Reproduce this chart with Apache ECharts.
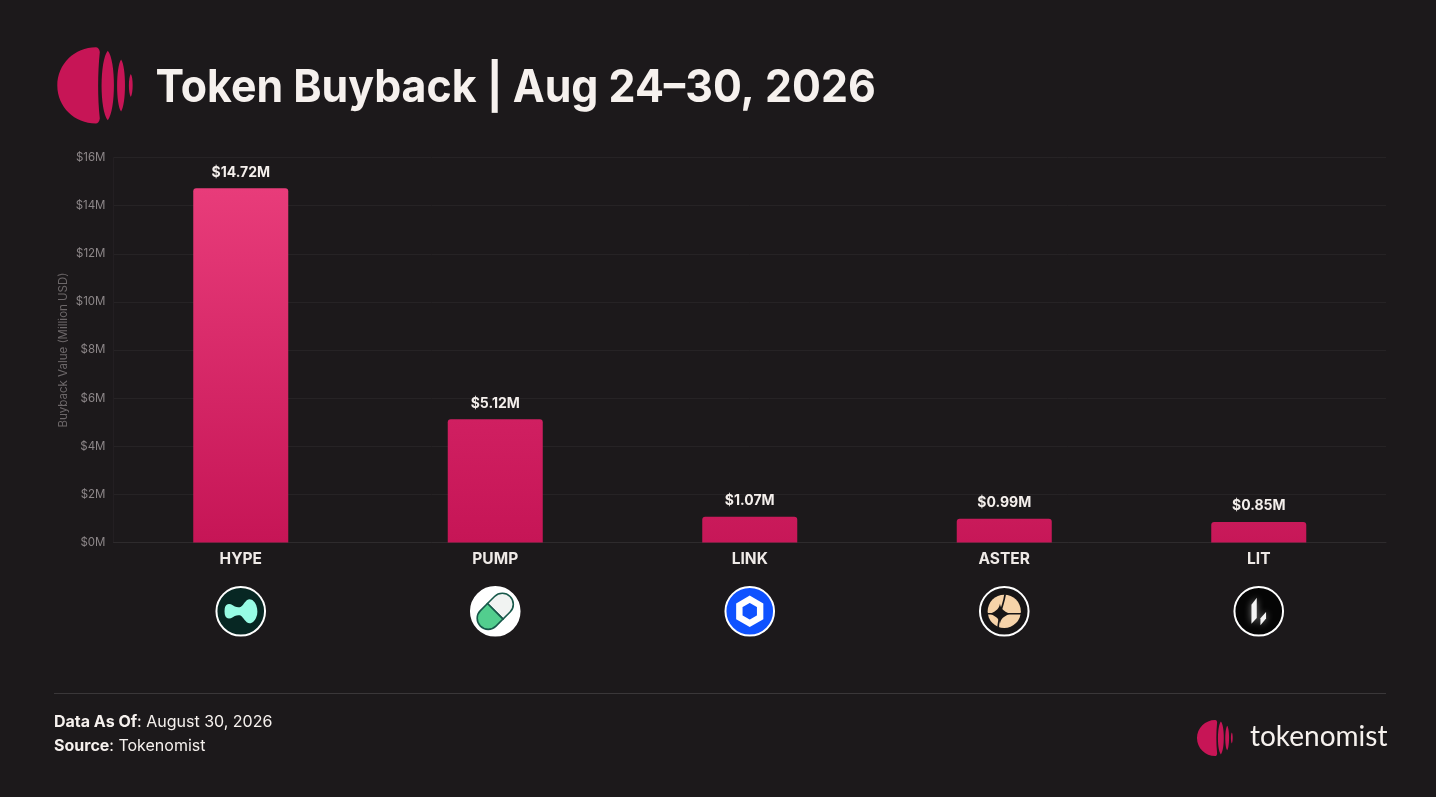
<!DOCTYPE html>
<html><head><meta charset="utf-8">
<style>html,body{margin:0;padding:0;background:#1c191b}#c{width:1436px;height:797px}</style>
<script src="https://cdn.jsdelivr.net/npm/echarts@6/dist/echarts.min.js"></script>
</head><body><div id="c"></div>
<script>
const categories = ['HYPE','PUMP','LINK','ASTER','LIT'];
const buyback = [14.72,5.12,1.07,0.99,0.85];
const valueLabels = ['$14.72M','$5.12M','$1.07M','$0.99M','$0.85M'];
const topColors = ['#E83C7A','#D01F61','#C91A5A','#C91A5A','#C91A5A'];
const bottomColors = ['#C61556','#C61556','#C71758','#C71758','#C71758'];
const titleText = 'Token Buyback | Aug 24–30, 2026';
const axisName = 'Buyback Value (Million USD)';

const chart = echarts.init(document.getElementById('c'), null, {width:1436, height:797, renderer:'canvas'});
const F = 'Inter, "Noto Sans", sans-serif';
let shapeId = 0;
const shapeOf = d => {
  const name = 'iconShape' + (shapeId++);
  echarts.graphic.registerShape(name, echarts.graphic.extendPath(d, {}));
  return name;
};
const lens = (cx,cy,rx,ry) => {
  const k = rx*1.33, h = ry*0.72;
  return `M${cx},${cy-ry}C${cx+k},${cy-h} ${cx+k},${cy+h} ${cx},${cy+ry}C${cx-k},${cy+h} ${cx-k},${cy-h} ${cx},${cy-ry}Z`;
};
const logoPath = 'M0.5,-38.2C-20.5,-38.2 -38,-21.5 -38,0C-38,21.5 -20.5,38 0.5,38C2.5,38 4,36.5 4.5,33C2.3,11.5 2.3,-11.5 4.5,-33.5C4,-36.7 2.5,-38.2 0.5,-38.2Z'
  + lens(12.5,0,6.2,34.7) + lens(25.8,0,4,26) + lens(35.5,0,1.9,11.4);
const logoShape = shapeOf(logoPath);
const logo = (x,y,s) => ({type:logoShape, x, y, scaleX:s, scaleY:s, style:{fill:'#C71556'}, silent:true});
const path = (d,fill,extra={}) => ({type:shapeOf(d), style:Object.assign({fill},extra), silent:true});
const ring = (fill,stroke='#fff') => ({type:'circle', shape:{cx:0,cy:0,r:24.3}, style:{fill,stroke,lineWidth:2}, silent:true});
const hex = R => {
  let p=[]; for(let i=0;i<6;i++){const a=Math.PI/3*i-Math.PI/2; p.push((R*Math.cos(a)).toFixed(2)+','+(R*Math.sin(a)).toFixed(2));}
  return 'M'+p.join('L')+'Z';
};
const glow = {shadowBlur:7,shadowColor:'rgba(255,255,255,.5)'};
const icons = [
  [ring('#072723'),
   path('M-16,-3C-15,-8 -11,-8 -8,-6C-5,-4 -3,-4 -1,-4C1,-4 3,-8 6,-11C10,-14 14,-10 15.5,-6C17,-2 17,3 15.5,6C14,10 10,14 6,11C3,8 1,4 -1,4C-3,4 -5,4 -8,6C-11,8 -15,8 -16,3C-16.3,1 -16.3,-1 -16,-3Z','#97FCE4')],
  [ring('#fff'),
   {type:'group', rotation:Math.PI/4, children:[
     path('M0,-11L10,-11A11,11 0 0 1 10,11L0,11Z','#F1F3F2',{stroke:'#17584A',lineWidth:1.6}),
     path('M0,-11L-10,-11A11,11 0 0 0 -10,11L0,11Z','#52CE8E',{stroke:'#17584A',lineWidth:1.6})
   ]}],
  [ring('#0F52FF'),
   path(hex(12),'#0F52FF',{stroke:'#fff',lineWidth:6.4,lineJoin:'miter'})],
  [ring('#171516'),
   {type:'circle', shape:{cx:0,cy:0,r:16.6}, style:{fill:'#F6D3A9'}, silent:true},
   path('M-17,1.7L17,1.7L17,3.3L-17,3.3Z','#171516'),
   path('M0,-17L1.8,-17C0.5,-10 -1,-5 -3.4,2.5L-5.2,2.5C-3,-5 -1,-10 0,-17Z','#171516'),
   path('M-5,2.5L-3.4,2.5C-4.5,8 -5,12 -5.3,17L-7.1,17C-6.7,12 -5.7,8 -5,2.5Z','#171516'),
   path('M-4.3,-7.5C-3.3,-2.5 -1.3,-0.5 5.7,2.5C-1.3,5.5 -3.3,7.5 -4.3,12.5C-5.3,7.5 -7.3,5.5 -14.3,2.5C-7.3,-0.5 -5.3,-2.5 -4.3,-7.5Z','#171516')],
  [ring('#050505'),
   path('M-7.3,-6.5L-2,-13.5L-2,6.7L-7.3,12.5Z','#F4F4F4',glow),
   path('M1.7,7L7.3,0.7L7.3,7.2L1.7,14Z','#F4F4F4',glow)]
];

chart.setOption({
  animation:false,
  backgroundColor:'#1c191b',
  grid:{left:113.5, right:50, top:157.5, bottom:254.5, containLabel:false},
  xAxis:{type:'category', data:categories,
    axisTick:{show:false},
    axisLine:{lineStyle:{color:'#2e2b2d',width:1}},
    axisLabel:{color:'#EFEAE7', fontFamily:F, fontSize:15.5, fontWeight:700, margin:9}},
  yAxis:{type:'value', min:0, max:16, interval:2,
    name:axisName, nameLocation:'middle', nameGap:44, nameRotate:90, nameMoveOverlap:false,
    nameTextStyle:{color:'#6C6769', fontFamily:F, fontSize:11.5},
    axisLine:{show:true, lineStyle:{color:'#231f22'}},
    axisTick:{show:false},
    splitLine:{lineStyle:{color:'#262325',width:1}},
    axisLabel:{color:'#8C8688', fontFamily:F, fontSize:11.5, margin:8, formatter:v=>'$'+v+'M'}},
  series:[{type:'bar', barWidth:95,
    data:buyback.map((v,i)=>({value:v, itemStyle:{borderRadius:[3,3,0,0],
      color:new echarts.graphic.LinearGradient(0,0,0,1,[{offset:0,color:topColors[i]},{offset:1,color:bottomColors[i]}])}})),
    label:{show:true, position:'top', distance:9, color:'#F4EFEC', fontFamily:F, fontSize:14, fontWeight:700,
      formatter:p=>valueLabels[p.dataIndex]}}]
});

const iconEls = categories.map((c,i)=>({type:'group', x:chart.convertToPixel({xAxisIndex:0},c), y:611.3, children:icons[i]}));
const rich = {b:{fontFamily:F,fontWeight:700,fontSize:16,fill:'#F6F1EE',color:'#F6F1EE'},n:{fontFamily:F,fontSize:16,fontWeight:400,fill:'#F6F1EE',color:'#F6F1EE'}};
chart.setOption({graphic:{elements:[
  logo(95.3,85.5,1),
  {type:'text', x:155.5, y:66, scaleX:0.952, style:{text:titleText, fontFamily:F, fontSize:45, fontWeight:700, fill:'#F6F1EE'}, silent:true},
  {type:'line', shape:{x1:54,y1:693.5,x2:1386,y2:693.5}, style:{stroke:'#3a3739',lineWidth:1}, silent:true},
  {type:'text', x:54, y:714, style:{text:'{b|Data As Of}{n|: August 30, 2026}', rich}, silent:true},
  {type:'text', x:54, y:738, style:{text:'{b|Source}{n|: Tokenomist}', rich}, silent:true},
  logo(1215,738,0.474),
  {type:'text', x:1250, y:723, style:{text:'tokenomist', fontFamily:'Lato, "Open Sans", sans-serif', fontSize:28, fontWeight:400, fill:'#F6F1EE'}, silent:true},
  ...iconEls
]}});
</script></body></html>
